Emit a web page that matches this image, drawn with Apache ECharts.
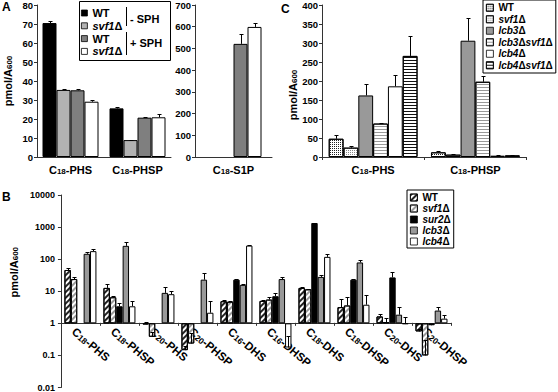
<!DOCTYPE html>
<html><head><meta charset="utf-8">
<script src="https://cdn.jsdelivr.net/npm/echarts@6/dist/echarts.min.js"></script>
<style>html,body{margin:0;padding:0;background:#fff}#c{width:558px;height:392px}</style>
</head><body><div id="c"></div>
<script>
// ---------------- DATA ----------------
// Panel A
const aCategories = ['C18-PHS', 'C18-PHSP', 'C18-S1P'];
const aWTMinus     = [70.5, 25.6, null];
const aSvfMinus    = [35.3, 8.9, null];
const aWTPlus      = [35.1, 20.7, 521];
const aSvfPlus     = [29.1, 20.9, 599];
const aWTMinusErr  = [1.2, 0.5, null];
const aSvfMinusErr = [0.7, 0.3, null];
const aWTPlusErr   = [0.5, 0.2, 46];
const aSvfPlusErr  = [0.7, 1.7, 19];
const aLeftAxis  = [0, 80, 10];   // min, max, interval
const aRightAxis = [0, 700, 100];

// Panel B
const bCategories = ['C18-PHS', 'C18-PHSP', 'C20-PHS', 'C20-PHSP', 'C16-DHS', 'C16-DHSP', 'C18-DHS', 'C18-DHSP', 'C20-DHS', 'C20-DHSP'];
const bWT      = [46, 12.7, 0.93, 0.146, 4.9, 5.0, 12.7, 3.2, 1.64, 0.56];
const bWTErr   = [7, 4.3, 0.17, 0.05, 0.3, 0.3, 0.8, 2.7, 0.3, 0.1];
const bSvf1    = [24, 6.5, 0.38, 0.235, 4.7, 5.5, 11.5, 3.6, 1.1, 0.10];
const bSvf1Err = [4, 0.4, 0.16, 0.27, 0.2, 1.0, 0.5, 2.8, 0.4, 0.2];
const bSur2    = [null, 3.4, null, null, 23, 7.0, 1340, 23, 27, 0.87];
const bSur2Err = [null, 1.0, null, null, 0.6, 1.9, 40, 0.6, 14, 0.05];
const bLcb3    = [147, 260, 8.9, 23, 15.8, 24, 28, 79, 1.86, 2.5];
const bLcb3Err = [26, 80, 5, 13, 0.8, 4, 4, 17, 1.3, 0.7];
const bLcb4    = [178, 3.4, 8.1, 2.14, 265, 0.177, 118, 3.8, 0.95, 1.4];
const bLcb4Err = [27, 1.5, 2, 2.7, 10, 0.22, 29, 4.1, 0.62, 0.46];
const bAxis = [0.01, 10000];

// Panel C
const cCategories = ['C18-PHS', 'C18-PHSP'];
const cWT          = [48, 12.3];
const cWTErr       = [9, 3.5];
const cSvf1        = [24.6, 6.2];
const cSvf1Err     = [4.4, 0.9];
const cLcb3        = [162, 306];
const cLcb3Err     = [30, 61];
const cLcb3Svf1    = [88, 198];
const cLcb3Svf1Err = [2, 15];
const cLcb4        = [186, 3.5];
const cLcb4Err     = [29, 1.5];
const cLcb4Svf1    = [266, 4.4];
const cLcb4Svf1Err = [53, 1.5];
const cAxis = [0, 400, 50];

// ---------------- HELPERS ----------------
const FONT = '"Liberation Sans", Arial, Helvetica, sans-serif';
const AX = '#333';
const subRich = {
  s: {fontSize: 8, fontWeight: 'bold', fontFamily: FONT, color: '#000', verticalAlign: 'bottom', lineHeight: 9}
};
const subRichB = {
  s: {fontSize: 8.5, fontWeight: 'bold', fontFamily: FONT, color: '#000', verticalAlign: 'bottom', lineHeight: 9.5}
};
function catFmt(v) { return v.replace(/^C(\d+)/, 'C{s|$1}'); }
function italFmt(name) {
  if (name === 'WT') return 'WT';
  return name.replace(/([a-z][a-z0-9]*)/g, '{i|$1}');
}
const legendRich = {i: {fontStyle: 'italic', fontWeight: 'bold', fontFamily: FONT, fontSize: 10, color: '#000'}};

function barSeries(names, datas, styles, xi, yi, bw) {
  return names.map((n, k) => ({
    type: 'bar', name: n, xAxisIndex: xi, yAxisIndex: yi, data: datas[k],
    barWidth: bw, barGap: '0%',
    itemStyle: Object.assign({borderColor: '#000', borderWidth: 1}, styles[k]),
    emphasis: {disabled: true}
  }));
}
function errSeries(datas, errs, xi, yi, bw) {
  const n = datas.length;
  return datas.map((vals, k) => ({
    type: 'custom', xAxisIndex: xi, yAxisIndex: yi, z: 5, silent: true,
    data: vals.map((v, i) => [i, v == null ? '-' : v, errs[k][i] == null ? 0 : errs[k][i]]),
    encode: {x: 0, y: 1},
    renderItem: function (params, api) {
      const v = api.value(1), e = api.value(2);
      if (v == null || isNaN(v) || !(e > 0)) return null;
      const c = api.value(0);
      const p0 = api.coord([c, v]), p1 = api.coord([c, v + e]);
      const x = Math.round(p0[0] + (k - (n - 1) / 2) * bw) + 0.5;
      const y1 = Math.round(p1[1]) + 0.5;
      return {type: 'group', children: [
        {type: 'line', shape: {x1: x, y1: p0[1], x2: x, y2: y1}, style: {stroke: '#000', lineWidth: 1}},
        {type: 'line', shape: {x1: x - 2, y1: y1, x2: x + 2, y2: y1}, style: {stroke: '#000', lineWidth: 1}}
      ]};
    }
  }));
}
function valueY(gi, range, name, gap, pad) {
  const y = {
    type: 'value', gridIndex: gi, min: range[0], max: range[1], interval: range[2],
    axisLine: {show: true, lineStyle: {color: AX}},
    axisTick: {show: true, length: 3, lineStyle: {color: AX}},
    splitLine: {show: false},
    axisLabel: {color: '#000', fontSize: 9.5, fontWeight: 'bold', fontFamily: FONT, margin: 4}
  };
  if (name) {
    Object.assign(y, {name: name, nameLocation: 'middle', nameRotate: 90, nameGap: gap,
      nameTextStyle: {color: '#000', fontSize: 11, fontWeight: 'bold', fontFamily: FONT, padding: pad, rich: subRich}});
  }
  return y;
}
function catX(gi, cats, tick, extra) {
  return Object.assign({
    type: 'category', gridIndex: gi, data: cats,
    axisLine: {show: true, onZero: false, lineStyle: {color: AX}},
    axisTick: {show: tick, length: 3, lineStyle: {color: AX}},
    axisLabel: {interval: 0, color: '#000', fontSize: 11, fontWeight: 'bold', fontFamily: FONT, margin: 7,
      formatter: catFmt, rich: subRich}
  }, extra || {});
}

// ---------------- STYLES ----------------
const hatchDark  = {color: '#fff', decal: {symbol: 'rect', symbolSize: 1, color: '#222', backgroundColor: '#fff', dashArrayX: [1, 0], dashArrayY: [1.2, 1.3], rotation: -Math.PI / 4}};
const hatchLight = {color: '#fff', decal: {symbol: 'rect', symbolSize: 1, color: '#9a9a9a', backgroundColor: '#fff', dashArrayX: [1, 0], dashArrayY: [1.2, 1.3], rotation: -Math.PI / 4}};
const dotDark    = {color: '#fff', decal: {symbol: 'rect', symbolSize: 1, color: '#222', backgroundColor: '#aaa', dashArrayX: [1, 1], dashArrayY: [1, 1], rotation: 0}};
const dotLight   = {color: '#fff', decal: {symbol: 'rect', symbolSize: 1, color: '#888', backgroundColor: '#eee', dashArrayX: [1, 1], dashArrayY: [1, 1], rotation: 0}};
const stripeGray = {color: '#fff', decal: {symbol: 'rect', symbolSize: 1, color: '#999', backgroundColor: '#fff', dashArrayX: [1, 0], dashArrayY: [1, 2], rotation: 0}};
const stripeDark = {color: '#fff', decal: {symbol: 'rect', symbolSize: 1, color: '#111', backgroundColor: '#fff', dashArrayX: [1, 0], dashArrayY: [1, 1.5], rotation: 0}};
const solidBlack = {color: '#000'};
const solidLight = {color: '#b2b2b2'};
const solidMid   = {color: '#7f7f7f'};
const solidGray  = {color: '#999'};
const solidWhite = {color: '#fff'};

// ---------------- LAYOUT ----------------
const gB = {left: 50, top: 195, width: 401, height: 194};
const bOffset = -gB.height * (Math.log10(1) - Math.log10(bAxis[0])) / (Math.log10(bAxis[1]) - Math.log10(bAxis[0]));

const aNames = ['WT -SPH', 'svf1Δ -SPH', 'WT +SPH', 'svf1Δ +SPH'];
const aStyles = [solidBlack, solidLight, solidMid, solidWhite];
const aAll = [aWTMinus, aSvfMinus, aWTPlus, aSvfPlus];
const aAllErr = [aWTMinusErr, aSvfMinusErr, aWTPlusErr, aSvfPlusErr];
const aLeftData = aAll.map(a => a.slice(0, 2));
const aLeftErr = aAllErr.map(a => a.slice(0, 2));
const aRightData = aAll.map(a => a.slice(2));
const aRightErr = aAllErr.map(a => a.slice(2));

const bNames = ['WT', 'svf1Δ', 'sur2Δ', 'lcb3Δ', 'lcb4Δ'];
const bStyles = [hatchDark, hatchLight, solidBlack, solidGray, solidWhite];
const bAll = [bWT, bSvf1, bSur2, bLcb3, bLcb4];
const bAllErr = [bWTErr, bSvf1Err, bSur2Err, bLcb3Err, bLcb4Err];

const cNames = ['WT ', 'svf1Δ ', 'lcb3Δ ', 'lcb3Δsvf1Δ', 'lcb4Δ ', 'lcb4Δsvf1Δ'];
const cStyles = [dotDark, dotLight, solidGray, stripeGray, solidWhite, stripeDark];
const cAll = [cWT, cSvf1, cLcb3, cLcb3Svf1, cLcb4, cLcb4Svf1];
const cAllErr = [cWTErr, cSvf1Err, cLcb3Err, cLcb3Svf1Err, cLcb4Err, cLcb4Svf1Err];

const yName = 'pmol/A{s|600}';
const legendText = {color: '#000', fontSize: 10, fontWeight: 'bold', fontFamily: FONT, lineHeight: 11.5, rich: legendRich};

const option = {
  animation: false,
  textStyle: {fontFamily: FONT},
  grid: [
    {left: 37, top: 5, width: 134, height: 152},
    {left: 195, top: 5, width: 77, height: 152},
    {left: 322, top: 5, width: 204.5, height: 152},
    gB
  ],
  xAxis: [
    catX(0, aCategories.slice(0, 2), false),
    catX(1, aCategories.slice(2), false),
    catX(2, cCategories, true),
    catX(3, bCategories, true, {
      position: 'bottom', offset: bOffset,
      axisLabel: {interval: 0, rotate: -40, margin: 5, padding: [0, 0, 0, -4], align: 'left', verticalAlign: 'top',
        color: '#000', fontSize: 11.5, fontWeight: 'bold', fontFamily: FONT, formatter: catFmt, rich: subRichB}
    })
  ],
  yAxis: [
    valueY(0, aLeftAxis, yName, 24, [0, 0, 0, 0]),
    valueY(1, aRightAxis),
    valueY(2, cAxis, yName, 24, [0, 28, 0, 0]),
    {
      type: 'log', gridIndex: 3, logBase: 10, min: bAxis[0], max: bAxis[1],
      axisLine: {show: true, lineStyle: {color: AX}},
      axisTick: {show: true, length: 3, lineStyle: {color: AX}},
      splitLine: {show: false}, minorTick: {show: false},
      axisLabel: {color: '#000', fontSize: 9, fontWeight: 'bold', fontFamily: FONT, margin: 6,
        formatter: v => String(+(+v).toPrecision(6))},
      name: yName, nameLocation: 'middle', nameRotate: 90, nameGap: 37,
      nameTextStyle: {color: '#000', fontSize: 11, fontWeight: 'bold', fontFamily: FONT, padding: [0, 0, 0, 38], rich: subRich}
    }
  ],
  legend: [
    {
      data: aNames, left: 81, top: 7, orient: 'vertical', itemWidth: 6, itemHeight: 6, itemGap: 0.8,
      padding: 0, icon: 'rect', selectedMode: false,
      itemStyle: {borderColor: '#000', borderWidth: 0.8},
      formatter: n => italFmt(n.split(' ')[0]),
      textStyle: Object.assign({}, legendText, {fontSize: 11, lineHeight: 12, rich: {i: Object.assign({}, legendRich.i, {fontSize: 11})}})
    },
    {
      data: cNames, left: 483, top: 0, orient: 'vertical', itemWidth: 7, itemHeight: 7, itemGap: 0,
      padding: [2, 3, 2, 3], icon: 'rect', selectedMode: false, backgroundColor: '#fff',
      borderColor: '#000', borderWidth: 1,
      itemStyle: {borderColor: '#000', borderWidth: 0.8},
      formatter: n => italFmt(n.trim()),
      textStyle: legendText
    },
    {
      data: bNames, left: 407, top: 190, orient: 'vertical', itemWidth: 7, itemHeight: 7, itemGap: 0,
      padding: [2, 3, 1, 3], icon: 'rect', selectedMode: false, backgroundColor: '#fff',
      borderColor: '#000', borderWidth: 1,
      itemStyle: {borderColor: '#000', borderWidth: 0.8},
      formatter: n => italFmt(n),
      textStyle: Object.assign({}, legendText, {lineHeight: 11})
    }
  ],
  graphic: [
    {type: 'text', x: 2, y: 1, style: {text: 'A', fontSize: 12, fontWeight: 'bold', fontFamily: FONT, fill: '#000'}},
    {type: 'text', x: 2, y: 191, style: {text: 'B', fontSize: 12, fontWeight: 'bold', fontFamily: FONT, fill: '#000'}},
    {type: 'text', x: 281, y: 3, style: {text: 'C', fontSize: 12, fontWeight: 'bold', fontFamily: FONT, fill: '#000'}},
    {type: 'rect', z: 0, shape: {x: 79.5, y: 1.5, width: 91, height: 59}, style: {fill: '#fff', stroke: '#000', lineWidth: 1}},
    {type: 'line', shape: {x1: 126.5, y1: 7, x2: 126.5, y2: 26}, style: {stroke: '#000', lineWidth: 1}},
    {type: 'line', shape: {x1: 126.5, y1: 32, x2: 126.5, y2: 55}, style: {stroke: '#000', lineWidth: 1}},
    {type: 'text', x: 130, y: 19, style: {text: '- SPH', fontSize: 11, fontWeight: 'bold', fontFamily: FONT, fill: '#000', verticalAlign: 'middle'}},
    {type: 'text', x: 130, y: 43, style: {text: '+ SPH', fontSize: 11, fontWeight: 'bold', fontFamily: FONT, fill: '#000', verticalAlign: 'middle'}}
  ],
  series: [].concat(
    barSeries(aNames, aLeftData, aStyles, 0, 0, 14),
    errSeries(aLeftData, aLeftErr, 0, 0, 14),
    barSeries(aNames, aRightData, aStyles, 1, 1, 14),
    errSeries(aRightData, aRightErr, 1, 1, 14),
    barSeries(cNames, cAll, cStyles, 2, 2, 14.8),
    errSeries(cAll, cAllErr, 2, 2, 14.8),
    barSeries(bNames, bAll, bStyles, 3, 3, 6.4),
    errSeries(bAll, bAllErr, 3, 3, 6.4)
  )
};

const chart = echarts.init(document.getElementById('c'), null, {renderer: 'svg'});
chart.setOption(option);
</script>
</body></html>
